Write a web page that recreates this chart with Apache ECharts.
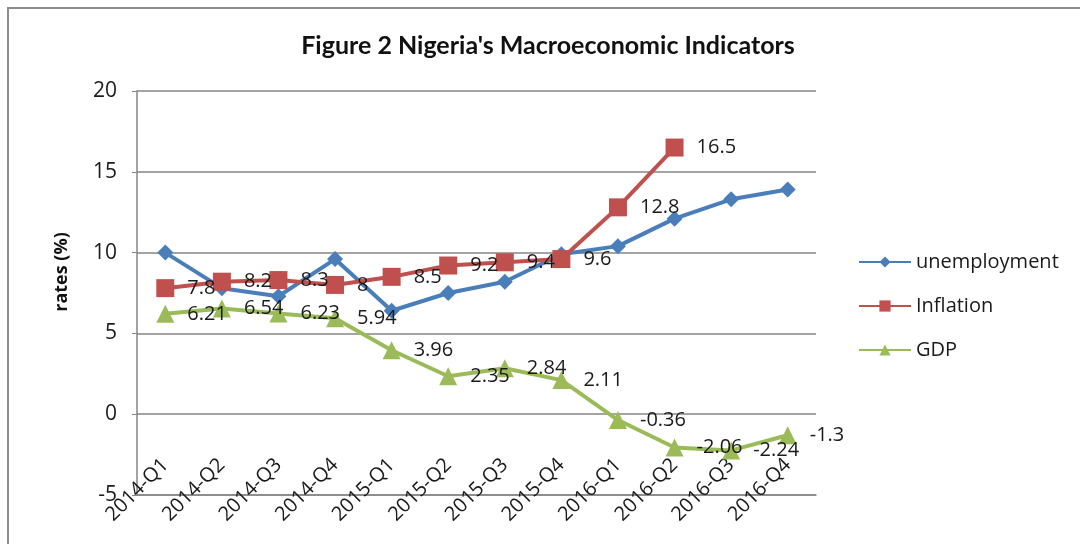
<!DOCTYPE html>
<html><head><meta charset="utf-8">
<script src="https://cdn.jsdelivr.net/npm/echarts@6/dist/echarts.min.js"></script>
<style>html,body{margin:0;padding:0;background:#fff}#c{width:1080px;height:544px}</style>
</head><body><div id="c"></div>
<script>
const categories = ['2014-Q1','2014-Q2','2014-Q3','2014-Q4','2015-Q1','2015-Q2','2015-Q3','2015-Q4','2016-Q1','2016-Q2','2016-Q3','2016-Q4'];
const unemployment = [10.0, 7.8, 7.3, 9.6, 6.4, 7.5, 8.2, 9.9, 10.4, 12.1, 13.3, 13.9];
const inflation = [7.8, 8.2, 8.3, 8, 8.5, 9.2, 9.4, 9.6, 12.8, 16.5, null, null];
const gdp = [6.21, 6.54, 6.23, 5.94, 3.96, 2.35, 2.84, 2.11, -0.36, -2.06, -2.24, -1.3];
const yTicks = [-5, 0, 5, 10, 15, 20];

const FONT = 'Open Sans';
const TXT = '#1a1a1a';
const chart = echarts.init(document.getElementById('c'));
const lbl = {show:true, position:'right', distance:13, color:TXT, fontSize:20, fontFamily:FONT};
chart.setOption({
  animation:false,
  backgroundColor:'#fff',
  title:{text:"Figure 2 Nigeria's Macroeconomic Indicators", left:543, textAlign:'center', top:28,
    textStyle:{fontFamily:'Lato', fontWeight:'bold', fontSize:25, color:'#111'}},
  graphic:[{type:'rect', shape:{x:8,y:8,width:1100,height:560}, style:{fill:'none', stroke:'#8c8c8c', lineWidth:2}, z:-1}],
  legend:{orient:'vertical', left:853, top:247, itemGap:24, itemWidth:52, itemHeight:14,
    textStyle:{fontFamily:FONT, fontSize:20, color:TXT},
    data:['unemployment','Inflation','GDP']},
  grid:{left:137, right:264, top:91, bottom:49, containLabel:false, outerBoundsMode:'none'},
  xAxis:{type:'category', data:categories, boundaryGap:true,
    axisLine:{onZero:false, lineStyle:{color:'#868686', width:1.5}},
    axisTick:{show:false},
    axisLabel:{interval:0, rotate:45, margin:-33, color:TXT, fontSize:20, fontFamily:FONT}},
  yAxis:{type:'value', min:yTicks[0], max:yTicks[yTicks.length-1], interval:5,
    name:'rates (%)', nameLocation:'middle', nameGap:66, nameRotate:90,
    nameTextStyle:{fontFamily:FONT, fontWeight:'bold', fontSize:18, color:'#111', padding:[0,0,0,42]},
    axisLine:{show:true, lineStyle:{color:'#868686', width:1.5}},
    axisTick:{show:true, length:5, lineStyle:{color:'#868686'}},
    splitLine:{lineStyle:{color:'#868686', width:1.5}},
    axisLabel:{color:TXT, fontSize:21, fontFamily:FONT, margin:20}},
  series:[
    {name:'unemployment', type:'line', data:unemployment, symbol:'diamond', symbolSize:16,
      itemStyle:{color:'#4a7ebb'}, lineStyle:{color:'#4a7ebb', width:4}},
    {name:'Inflation', type:'line', data:inflation, symbol:'rect', symbolSize:18,
      itemStyle:{color:'#c0504d'}, lineStyle:{color:'#c0504d', width:4}, label:lbl},
    {name:'GDP', type:'line', data:gdp, symbol:'triangle', symbolSize:18,
      itemStyle:{color:'#9bbb59'}, lineStyle:{color:'#9bbb59', width:4}, label:lbl}
  ]
});
</script></body></html>
